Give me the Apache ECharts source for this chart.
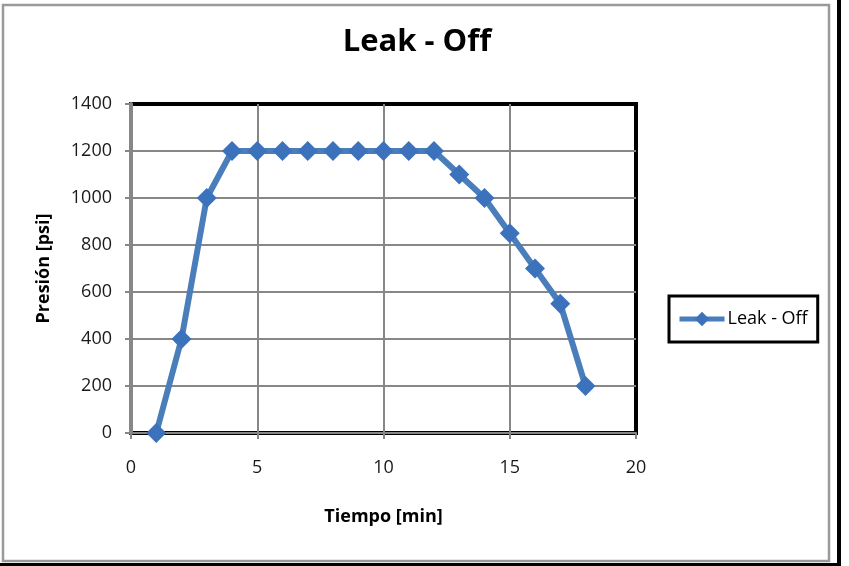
<!DOCTYPE html>
<html>
<head>
<meta charset="utf-8">
<script src="https://cdn.jsdelivr.net/npm/echarts@6/dist/echarts.min.js"></script>
<style>
  html, body { margin: 0; padding: 0; background: #ffffff; }
  #chart { width: 849px; height: 566px; }
</style>
</head>
<body>
<div id="chart"></div>
<script>
// Pressure readings over time (leak-off test)
const timeMin = [1, 2, 3, 4, 5, 6, 7, 8, 9, 10, 11, 12, 13, 14, 15, 16, 17, 18];
const pressurePsi = [0, 400, 1000, 1200, 1200, 1200, 1200, 1200, 1200, 1200, 1200, 1200, 1100, 1000, 850, 700, 550, 200];
const seriesName = 'Leak - Off';

const FONT = '"Open Sans", "Noto Sans", sans-serif';
const GRAY = '#878787';
const LINE_BLUE = '#4a7ebb';
const MARK_BLUE = '#3c72bc';

const chart = echarts.init(document.getElementById('chart'), null, { renderer: 'canvas' });

chart.setOption({
  backgroundColor: '#ffffff',
  animation: false,
  title: {
    text: 'Leak - Off',
    left: 412,
    top: 22,
    textAlign: 'center',
    textStyle: { fontFamily: FONT, fontWeight: 'bold', fontSize: 31, color: '#000' }
  },
  graphic: [
    { type: 'rect', shape: { x: 3, y: 5, width: 826, height: 556 },
      style: { fill: 'none', stroke: '#9a9a9a', lineWidth: 2.5 }, z: 0 },
    { type: 'rect', shape: { x: 837, y: 0, width: 4, height: 566 },
      style: { fill: '#000' }, z: 0 },
    { type: 'rect', shape: { x: 0, y: 563, width: 841, height: 3 },
      style: { fill: '#000' }, z: 0 }
  ],
  legend: {
    left: 669,
    top: 296,
    orient: 'vertical',
    padding: [12, 10, 12, 8],
    borderColor: '#000',
    borderWidth: 3,
    itemWidth: 45,
    itemHeight: 18,
    itemGap: 0,
    lineStyle: { width: 5, color: LINE_BLUE },
    itemStyle: { color: MARK_BLUE },
    textStyle: { fontFamily: FONT, fontSize: 18, color: '#000', lineHeight: 22, padding: [0, 0, 0, -2] },
    data: [seriesName]
  },
  grid: {
    left: 131,
    top: 104,
    right: 213,
    bottom: 133,
    show: true,
    borderColor: '#000',
    borderWidth: 4,
    containLabel: false
  },
  xAxis: {
    type: 'value',
    min: 0,
    max: 20,
    interval: 5,
    name: 'Tiempo [min]',
    nameLocation: 'middle',
    nameGap: 75,
    nameTextStyle: { fontFamily: FONT, fontWeight: 'bold', fontSize: 18, color: '#000' },
    axisLine: { show: true, lineStyle: { color: GRAY, width: 2 } },
    axisTick: { show: true, length: 6, lineStyle: { color: GRAY, width: 2 } },
    axisLabel: { margin: 26, fontFamily: FONT, fontSize: 18, color: '#1a1a1a' },
    splitLine: { show: true, showMinLine: false, showMaxLine: false, lineStyle: { color: GRAY, width: 2 } }
  },
  yAxis: {
    type: 'value',
    min: 0,
    max: 1400,
    interval: 200,
    name: 'Presión [psi]',
    nameLocation: 'middle',
    nameGap: 78,
    nameTextStyle: { fontFamily: FONT, fontWeight: 'bold', fontSize: 18, color: '#000' },
    axisLine: { show: true, lineStyle: { color: GRAY, width: 4 } },
    axisTick: { show: true, length: 6, lineStyle: { color: GRAY, width: 2 } },
    axisLabel: { margin: 19, fontFamily: FONT, fontSize: 18, color: '#1a1a1a', formatter: v => String(v) },
    splitLine: { show: true, showMinLine: false, showMaxLine: false, lineStyle: { color: GRAY, width: 2 } }
  },
  series: [{
    name: seriesName,
    type: 'line',
    data: timeMin.map((t, i) => [t, pressurePsi[i]]),
    clip: false,
    symbol: 'diamond',
    symbolSize: 20,
    showAllSymbol: true,
    lineStyle: { color: LINE_BLUE, width: 6 },
    itemStyle: { color: MARK_BLUE, borderWidth: 0 },
    z: 3
  }]
});
</script>
</body>
</html>
